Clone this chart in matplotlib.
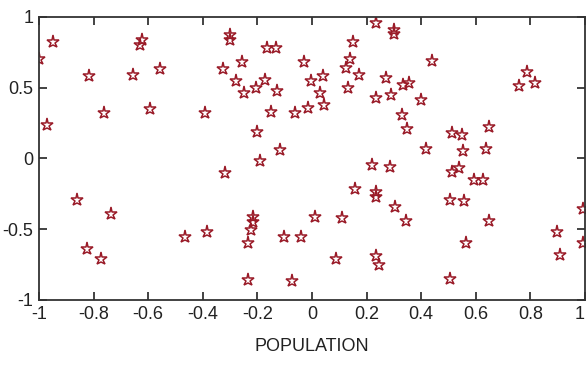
import matplotlib
matplotlib.use("Agg")
import matplotlib.pyplot as plt

x_vals = [-1.00, -0.95, -0.97, -0.817, -0.762, -0.656, -0.63, -0.624, -0.595, -0.557,
          -0.30, -0.30, -0.393, -0.326, -0.255, -0.277, -0.249, -0.207, -0.174, -0.165,
          -0.133, -0.128, -0.152, -0.203, -0.116, -0.189, -0.063, -0.028, -0.015, -0.004,
          0.028, 0.040, 0.043, 0.150, 0.138, 0.123, 0.131, 0.172, 0.236, 0.272,
          0.236, 0.30, 0.30, 0.29, 0.335, 0.357, 0.439, 0.398, 0.329, 0.348,
          0.416, 0.514, 0.550, 0.553, 0.647, 0.638, 0.757, 0.787, 0.817, -0.862,
          -0.737, -0.825, -0.773, -0.466, -0.319, -0.386, -0.216, -0.216, -0.222, -0.234,
          -0.234, -0.104, -0.040, -0.073, 0.010, 0.108, 0.087, 0.157, 0.221, 0.233,
          0.233, 0.236, 0.245, 0.287, 0.305, 0.343, 0.504, 0.514, 0.540, 0.555,
          0.592, 0.628, 0.647, 0.565, 0.504, 0.898, 0.910, 0.994, 0.992]
y_vals = [0.70, 0.82, 0.24, 0.58, 0.32, 0.59, 0.80, 0.84, 0.35, 0.63,
          0.87, 0.84, 0.32, 0.63, 0.68, 0.55, 0.46, 0.50, 0.555, 0.78,
          0.78, 0.48, 0.33, 0.19, 0.06, -0.02, 0.32, 0.68, 0.355, 0.55,
          0.46, 0.58, 0.38, 0.82, 0.70, 0.64, 0.50, 0.59, 0.955, 0.57,
          0.425, 0.91, 0.88, 0.45, 0.52, 0.535, 0.69, 0.41, 0.31, 0.21,
          0.065, 0.18, 0.165, 0.05, 0.225, 0.07, 0.51, 0.61, 0.53, -0.29,
          -0.39, -0.64, -0.71, -0.557, -0.105, -0.52, -0.41, -0.45, -0.505, -0.60,
          -0.86, -0.557, -0.557, -0.864, -0.415, -0.42, -0.71, -0.218, -0.046, -0.235,
          -0.27, -0.69, -0.75, -0.062, -0.34, -0.44, -0.29, -0.093, -0.07, -0.30,
          -0.15, -0.15, -0.44, -0.595, -0.854, -0.517, -0.68, -0.36, -0.60]
x_ticks = [-1, -0.8, -0.6, -0.4, -0.2, 0, 0.2, 0.4, 0.6, 0.8, 1]
x_ticklabels = ["-1", "-0.8", "-0.6", "-0.4", "-0.2", "0", "0.2", "0.4", "0.6", "0.8", "1"]
y_ticks = [-1, -0.5, 0, 0.5, 1]
y_ticklabels = ["-1", "-0.5", "0", "0.5", "1"]
x_label = "POPULATION"

plt.rcParams["font.family"] = ["Liberation Sans", "DejaVu Sans"]

fig = plt.figure(figsize=(5.88, 3.69), dpi=100)
ax = fig.add_axes([0.0663, 0.187, 0.9287, 0.767])
ax.plot(x_vals, y_vals, linestyle="none", marker="*", markersize=9.5,
        markerfacecolor="none", markeredgecolor="#9a1b28", markeredgewidth=1.1)
ax.set_xlim(-1, 1)
ax.set_ylim(-1, 1)
ax.set_xticks(x_ticks)
ax.set_xticklabels(x_ticklabels)
ax.set_yticks(y_ticks)
ax.set_yticklabels(y_ticklabels)
ax.tick_params(direction="in", top=True, right=True, length=6, width=1.2,
               labelsize=13, pad=4, colors="#222222")
# keep the last x tick label inside the canvas
ax.get_xticklabels()[-1].set_horizontalalignment("right")
for s in ax.spines.values():
    s.set_linewidth(1.3)
    s.set_color("#333333")
ax.set_xlabel(x_label, fontsize=13, color="#222222", labelpad=11)
fig.savefig("out.png", dpi=100, facecolor="white")
